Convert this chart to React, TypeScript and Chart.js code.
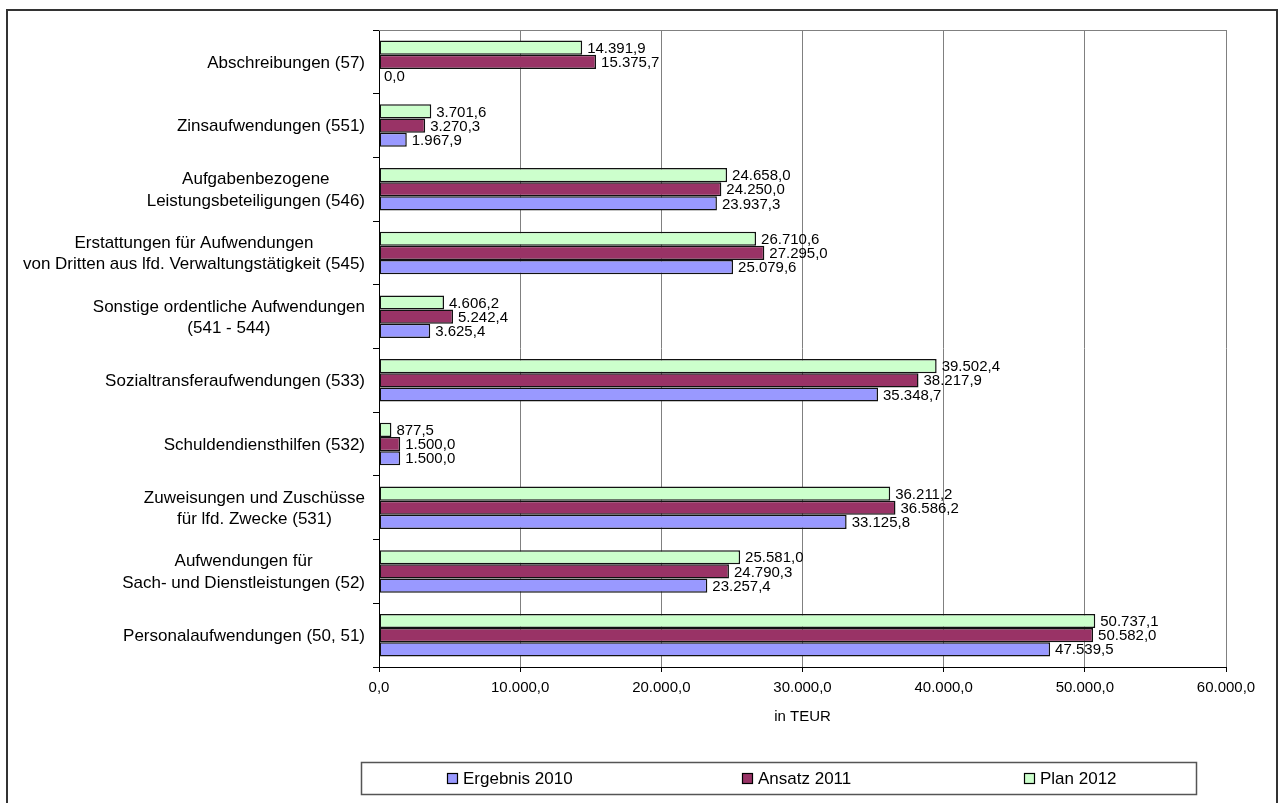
import React, { useEffect, useRef } from "react";
import { Chart, registerables } from "chart.js";

Chart.register(...registerables);

// ---- data (top to bottom as shown) ----
const categories: string[][] = [
  ["Abschreibungen (57)"],
  ["Zinsaufwendungen (551)"],
  ["Aufgabenbezogene", "Leistungsbeteiligungen (546)"],
  ["Erstattungen für Aufwendungen", "von Dritten aus lfd. Verwaltungstätigkeit (545)"],
  ["Sonstige ordentliche Aufwendungen", "(541 - 544)"],
  ["Sozialtransferaufwendungen (533)"],
  ["Schuldendiensthilfen (532)"],
  ["Zuweisungen und Zuschüsse", "für lfd. Zwecke (531)"],
  ["Aufwendungen für", "Sach- und Dienstleistungen (52)"],
  ["Personalaufwendungen (50, 51)"],
];
const ergebnis2010 = [0.0, 1967.9, 23937.3, 25079.6, 3625.4, 35348.7, 1500.0, 33125.8, 23257.4, 47539.5];
const ansatz2011 = [15375.7, 3270.3, 24250.0, 27295.0, 5242.4, 38217.9, 1500.0, 36586.2, 24790.3, 50582.0];
const plan2012 = [14391.9, 3701.6, 24658.0, 26710.6, 4606.2, 39502.4, 877.5, 36211.2, 25581.0, 50737.1];
const seriesNames = ["Ergebnis 2010", "Ansatz 2011", "Plan 2012"];
const axisTitle = "in TEUR";
const xMin = 0;
const xMax = 60000;
const xStep = 10000;

const FONT = "'Liberation Sans', Arial, sans-serif";
const COLORS = { ergebnis: "#9999FF", ansatz: "#993366", plan: "#CCFFCC" };

function fmt(v: number): string {
  const s = Math.abs(v).toFixed(1);
  const [i, d] = s.split(".");
  return (v < 0 ? "-" : "") + i.replace(/\B(?=(\d{3})+(?!\d))/g, ".") + "," + d;
}

const framePlugin = {
  id: "frame",
  beforeDraw(chart: any) {
    const ctx = chart.ctx;
    ctx.save();
    ctx.fillStyle = "#ffffff";
    ctx.fillRect(0, 0, chart.width, chart.height);
    ctx.strokeStyle = "#333333";
    ctx.lineWidth = 2;
    ctx.strokeRect(7, 10, 1270, 900);
    ctx.restore();
  },
  beforeDatasetsDraw(chart: any) {
    const { ctx, chartArea } = chart;
    ctx.save();
    ctx.strokeStyle = "#808080";
    ctx.lineWidth = 1;
    ctx.beginPath();
    ctx.moveTo(chartArea.left, Math.round(chartArea.top) + 0.5);
    ctx.lineTo(chartArea.right, Math.round(chartArea.top) + 0.5);
    ctx.stroke();
    ctx.restore();
  },
};

const categoryLabelPlugin = {
  id: "catLabels",
  afterDraw(chart: any) {
    const ctx = chart.ctx;
    const yScale = chart.scales.y;
    const rightEdge = chart.chartArea.left - 14;
    const lineH = 21.5;
    ctx.save();
    ctx.font = `17px ${FONT}`;
    ctx.fillStyle = "#000000";
    ctx.textAlign = "center";
    ctx.textBaseline = "middle";
    (chart.data.labels as string[][]).forEach((lines, i) => {
      const cy = yScale.getPixelForTick(i);
      const maxW = Math.max(...lines.map((l) => ctx.measureText(l).width));
      const cx = rightEdge - maxW / 2;
      const y0 = cy - ((lines.length - 1) * lineH) / 2;
      lines.forEach((l, k) => ctx.fillText(l, cx, y0 + k * lineH + 1));
    });
    ctx.restore();
  },
};

const dataLabelPlugin = {
  id: "dataLabels",
  afterDatasetsDraw(chart: any) {
    const ctx = chart.ctx;
    ctx.save();
    ctx.font = `15px ${FONT}`;
    ctx.fillStyle = "#000000";
    ctx.textAlign = "left";
    ctx.textBaseline = "middle";
    chart.data.datasets.forEach((ds: any, di: number) => {
      const meta = chart.getDatasetMeta(di);
      meta.data.forEach((el: any, i: number) => {
        ctx.fillText(fmt(ds.data[i]), el.x + 5, el.y + 1);
      });
    });
    ctx.restore();
  },
};

const legendPlugin = {
  id: "customLegend",
  afterDraw(chart: any) {
    const ctx = chart.ctx;
    ctx.save();
    ctx.strokeStyle = "#555555";
    ctx.lineWidth = 1.5;
    ctx.strokeRect(361.5, 762.5, 835, 32);
    const itemX = [447, 742, 1024];
    const order = [...chart.data.datasets].reverse();
    ctx.font = `17px ${FONT}`;
    ctx.textAlign = "left";
    ctx.textBaseline = "middle";
    order.forEach((ds: any, k: number) => {
      const x = itemX[k];
      ctx.fillStyle = ds.backgroundColor;
      ctx.fillRect(x + 0.5, 773.5, 10, 10);
      ctx.strokeStyle = "#000000";
      ctx.lineWidth = 1.2;
      ctx.strokeRect(x + 0.5, 773.5, 10, 10);
      ctx.fillStyle = "#000000";
      ctx.fillText(ds.label, x + 16, 779.5);
    });
    ctx.restore();
  },
};

export default function App() {
  const ref = useRef<HTMLCanvasElement | null>(null);
  useEffect(() => {
    if (!ref.current) return;
    const chart = new Chart(ref.current, {
      type: "bar",
      data: {
        labels: categories as any,
        datasets: [
          { label: seriesNames[2], data: plan2012, backgroundColor: COLORS.plan },
          { label: seriesNames[1], data: ansatz2011, backgroundColor: COLORS.ansatz },
          { label: seriesNames[0], data: ergebnis2010, backgroundColor: COLORS.ergebnis },
        ].map((d) => ({
          ...d,
          borderColor: "#111111",
          borderWidth: 1.5,
          borderSkipped: false,
          categoryPercentage: 0.667,
          barPercentage: 1.0,
        })),
      },
      options: {
        indexAxis: "y",
        responsive: false,
        animation: false,
        devicePixelRatio: 1,
        layout: { padding: { left: 0, top: 30, right: 53, bottom: 0 } },
        plugins: { legend: { display: false }, tooltip: { enabled: false } },
        scales: {
          x: {
            type: "linear",
            min: xMin,
            max: xMax,
            ticks: {
              stepSize: xStep,
              padding: 7,
              color: "#000000",
              font: { family: FONT, size: 15 },
              callback: (v: any) => fmt(Number(v)),
            },
            grid: { color: "#808080", lineWidth: 1, tickColor: "#000000", tickLength: 5 },
            border: { color: "#000000", width: 1 },
            title: {
              display: true,
              text: axisTitle,
              color: "#000000",
              font: { family: FONT, size: 15 },
              padding: { top: 0, bottom: 77 },
            },
            afterFit: (s: any) => {
              s.height = 136;
            },
          },
          y: {
            type: "category",
            ticks: { display: false },
            grid: { display: true, drawOnChartArea: false, tickColor: "#000000", tickLength: 6 },
            border: { color: "#000000", width: 1 },
            afterFit: (s: any) => {
              s.width = 379;
            },
          },
        },
      },
      plugins: [framePlugin, categoryLabelPlugin, dataLabelPlugin, legendPlugin],
    } as any);
    return () => chart.destroy();
  }, []);
  return (
    <div style={{ position: "fixed", left: 0, top: 0, width: 1279, height: 803, background: "#fff" }}>
      <canvas ref={ref} width={1279} height={803} style={{ display: "block", width: 1279, height: 803 }} />
    </div>
  );
}
